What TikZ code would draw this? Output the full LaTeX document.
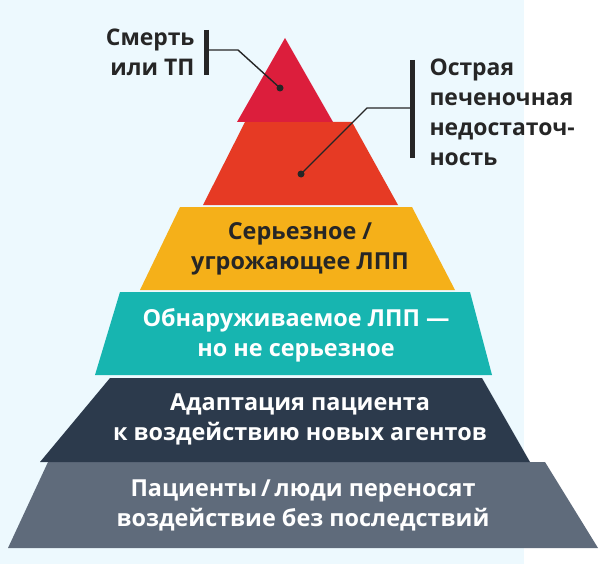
\documentclass[tikz,border=0pt]{standalone}
\usepackage{fontspec}
\setmainfont{Open Sans}
\begin{document}
\begin{tikzpicture}[x=1bp,y=-1bp,
  lay/.style={draw=none},
  wlab/.style={text=white,font=\bfseries\fontsize{23.5}{30}\selectfont,align=center},
  blab/.style={text=black!85,font=\bfseries\fontsize{23}{30}\selectfont},
  bar/.style={line width=5bp,black!85},
  lead/.style={line width=1.4bp,black!85}]
\useasboundingbox (0,0) rectangle (600,564);
\fill[white] (0,0) rectangle (600,564);
\fill[cyan!7!white] (0,0) rectangle (524,564);
% layers
\fill[lay,fill={rgb,255:red,95;green,107;blue,123}] (48,462) -- (545,462) -- (598,548) -- (8,548) -- cycle;
\fill[lay,fill={rgb,255:red,44;green,58;blue,76}] (110,378) -- (482,378) -- (530,462) -- (40,462) -- cycle;
\fill[lay,fill={rgb,255:red,23;green,181;blue,176}] (120,292) -- (470,292) -- (492,375) -- (95,375) -- cycle;
\fill[lay,fill={rgb,255:red,245;green,176;blue,25}] (180,207) -- (412,207) -- (455,290) -- (140,290) -- cycle;
\fill[lay,fill={rgb,255:red,230;green,58;blue,36}] (245,122) -- (352,122) -- (398,205) -- (203,205) -- cycle;
\fill[lay,fill={rgb,255:red,220;green,30;blue,60}] (285,38) -- (333,122) -- (237,122) -- cycle;
% labels
\node[wlab,text=black!85] (l3) at (300,249) {Серьезное /\\угрожающее ЛПП};
\node[wlab] (l4) at (296,335) {Обнаруживаемое ЛПП —\\но не серьезное};
\node[wlab] (l5) at (300,419) {Адаптация пациента\\к воздействию новых агентов};
\node[wlab] (l6) at (303,505) {Пациенты\,/\,люди переносят\\воздействие без последствий};
% callouts
\node[blab,align=right,anchor=east] (t1) at (198,52) {Смерть\\или ТП};
\node[blab,align=left,anchor=west] (t2) at (426,112) {Острая\\печеночная\\недостаточ-\\ность};
\coordinate (b1a) at (206,30); \coordinate (b1b) at (206,75);
\coordinate (b2a) at (412,60); \coordinate (b2b) at (412,158);
\draw[bar] (b1a) -- (b1b);
\draw[bar] (b2a) -- (b2b);
\coordinate (d1) at (280,88); \coordinate (d2) at (301,174);
\draw[lead] (206,50) -- (238,50) -- (d1);
\draw[lead] (412,108) -- (367,108) -- (d2);
\fill[black!85] (d1) circle (3.5);
\fill[black!85] (d2) circle (3.5);
\end{tikzpicture}
\end{document}
